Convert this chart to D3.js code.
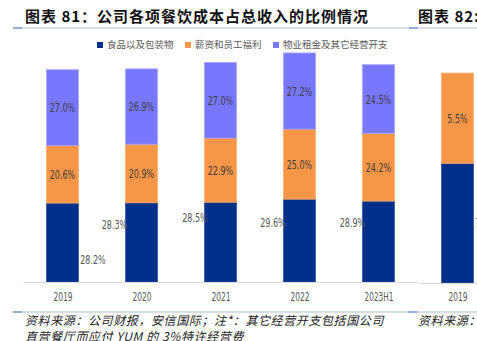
<!DOCTYPE html>
<html>
<head>
<meta charset="utf-8">
<script src="https://cdn.jsdelivr.net/npm/d3@7"></script>
<style>
  html, body { margin: 0; padding: 0; background: #fff; }
  svg { display: block; }
</style>
</head>
<body>
<svg id="chart" width="477" height="341"></svg>
<script>
// ---- data ----
const categories = ["2019", "2020", "2021", "2022", "2023H1"];
const seriesNames = ["食品以及包装物", "薪资和员工福利", "物业租金及其它经营开支"];
const foodPackaging = [28.2, 28.3, 28.5, 29.6, 28.9];
const staffCost = [20.6, 20.9, 22.9, 25.0, 24.2];
const rentOther = [27.0, 26.9, 27.0, 27.2, 24.5];
const rightCategories = ["2019"];
const rightSeriesA = [7.3];
const rightSeriesB = [5.5];
const titleLeft = "图表 81：公司各项餐饮成本占总收入的比例情况";
const titleRight = "图表 82:";
const noteLine1 = "资料来源：公司财报，安信国际；注*：其它经营开支包括国公司";
const noteLine2 = "直营餐厅而应付 YUM 的 3%特许经营费";
const noteRight = "资料来源：";

// ---- layout (not data) ----
const colors = ["#00308a", "#f79646", "#7777ff"];
const strokes = ["#3355a0", "#f8ad72", "#a3a3ff"];
// quirky placement of the first-series labels (dx from bar centre, dy from segment centre)
const darkLabelShift = [[30.5, 16.5], [-27, -18], [-25.5, -25], [-26.5, -18.5], [-26, -19.5]];
const rightDarkLabelShift = [[28, -1]];

const svg = d3.select("#chart");
const labelFont = "'DejaVu Sans Condensed', 'Liberation Sans', sans-serif";
const cjk = "'Noto Sans CJK SC', 'Noto Sans', sans-serif";

function narrow(sel, perChar) {
  sel.each(function () {
    const t = d3.select(this);
    t.attr("textLength", t.text().length * perChar).attr("lengthAdjust", "spacingAndGlyphs");
  });
}

// header
svg.append("text").attr("x", 25).attr("y", 22)
  .attr("font-family", cjk).attr("font-weight", 700).attr("font-size", 15)
  .attr("letter-spacing", 1).attr("fill", "#111").text(titleLeft);
svg.append("text").attr("x", 418).attr("y", 22)
  .attr("font-family", cjk).attr("font-weight", 700).attr("font-size", 15)
  .attr("letter-spacing", 1).attr("fill", "#111").text(titleRight);

function rule(y, x0, x1) {
  svg.append("line").attr("x1", x0).attr("x2", x1).attr("y1", y).attr("y2", y)
    .attr("stroke", "#b4c0d8").attr("stroke-width", 1.2);
  svg.append("line").attr("x1", x0).attr("x2", x0 + 9).attr("y1", y).attr("y2", y)
    .attr("stroke", "#6d8cc0").attr("stroke-width", 1.2);
}
rule(28, 13, 409);
rule(28, 409, 477);

// ---- left chart scales ----
const x = d3.scalePoint().domain(categories).range([23, 418]).padding(0.5);
const y = d3.scaleLinear().domain([0, 80]).range([282, 58]);
const barW = 32;

const stackData = categories.map((c, i) => ({ cat: c, s0: foodPackaging[i], s1: staffCost[i], s2: rentOther[i] }));
const stack = d3.stack().keys(["s0", "s1", "s2"])(stackData);

const gBars = svg.append("g");
stack.forEach((layer, li) => {
  gBars.selectAll(null).data(layer).enter().append("rect")
    .attr("x", d => x(d.data.cat) - barW / 2)
    .attr("width", barW)
    .attr("y", d => y(d[1]))
    .attr("height", d => y(d[0]) - y(d[1]))
    .attr("fill", colors[li])
    .attr("stroke", strokes[li]).attr("stroke-width", 0.8);
});

// axis
const xAxis = d3.axisBottom(x).tickSize(0).tickPadding(11);
const gx = svg.append("g").attr("transform", "translate(0,282)").call(xAxis);
gx.select(".domain").attr("stroke", "#d9d9d9").attr("stroke-width", 1.2);
gx.selectAll("text").attr("font-family", labelFont).attr("font-size", 11.5).attr("fill", "#595959").call(narrow, 4.8);

// labels
stack.forEach((layer, li) => {
  layer.forEach((d, i) => {
    const cx = x(d.data.cat);
    const cy = (y(d[0]) + y(d[1])) / 2;
    const shift = li === 0 ? darkLabelShift[i] : [0, 0];
    svg.append("text")
      .attr("x", cx + shift[0]).attr("y", cy + shift[1])
      .attr("dy", "0.36em").attr("text-anchor", "middle")
      .attr("font-family", labelFont).attr("font-size", 13)
      .attr("fill", li === 0 ? "#595959" : "#404040")
      .text(d3.format(".1f")(d[1] - d[0]) + "%")
      .call(narrow, 5.1);
  });
});

// legend
const legendX = [97, 185, 273];
seriesNames.forEach((n, i) => {
  svg.append("rect").attr("x", legendX[i]).attr("y", 42).attr("width", 6).attr("height", 6).attr("fill", colors[i]);
  svg.append("text").attr("x", legendX[i] + 10).attr("y", 45).attr("dy", "0.36em")
    .attr("font-family", cjk).attr("font-size", 9.5).attr("fill", "#595959").text(n);
});

// ---- right (cut-off) chart ----
const x2 = d3.scalePoint().domain(rightCategories).range([419, 496]).padding(0.5);
const y2 = d3.scaleLinear().domain([0, 13]).range([283, 283 - 13 * 16.4]);
const stack2 = d3.stack().keys(["a", "b"])(rightCategories.map((c, i) => ({ cat: c, a: rightSeriesA[i], b: rightSeriesB[i] })));
stack2.forEach((layer, li) => {
  svg.append("g").selectAll(null).data(layer).enter().append("rect")
    .attr("x", d => x2(d.data.cat) - barW / 2)
    .attr("width", barW)
    .attr("y", d => y2(d[1]))
    .attr("height", d => y2(d[0]) - y2(d[1]))
    .attr("fill", colors[li])
    .attr("stroke", strokes[li]).attr("stroke-width", 0.8);
  layer.forEach((d, i) => {
    const shift = li === 0 ? rightDarkLabelShift[i] : [0, 0];
    svg.append("text")
      .attr("x", x2(d.data.cat) + shift[0]).attr("y", (y2(d[0]) + y2(d[1])) / 2 + shift[1])
      .attr("dy", "0.36em").attr("text-anchor", "middle")
      .attr("font-family", labelFont).attr("font-size", 13)
      .attr("fill", li === 0 ? "#595959" : "#404040")
      .text(d3.format(".1f")(d[1] - d[0]) + "%")
      .call(narrow, 5.1);
  });
});
const gx2 = svg.append("g").attr("transform", "translate(0,283)").call(d3.axisBottom(x2).tickSize(0).tickPadding(10));
gx2.select(".domain").attr("stroke", "#d9d9d9").attr("stroke-width", 1.2);
gx2.selectAll("text").attr("font-family", labelFont).attr("font-size", 11.5).attr("fill", "#595959").call(narrow, 4.8);

// footnote
rule(312, 13, 408);
rule(312, 408, 477);
svg.append("text").attr("x", 25).attr("y", 325)
  .attr("font-family", cjk).attr("font-style", "italic").attr("font-size", 12)
  .attr("letter-spacing", 0.6).attr("fill", "#222").text(noteLine1);
svg.append("text").attr("x", 25).attr("y", 341)
  .attr("font-family", cjk).attr("font-style", "italic").attr("font-size", 12)
  .attr("letter-spacing", 0.6).attr("fill", "#222").text(noteLine2);
svg.append("text").attr("x", 418).attr("y", 325)
  .attr("font-family", cjk).attr("font-style", "italic").attr("font-size", 12)
  .attr("letter-spacing", 0.6).attr("fill", "#222").text(noteRight);
</script>
</body>
</html>
